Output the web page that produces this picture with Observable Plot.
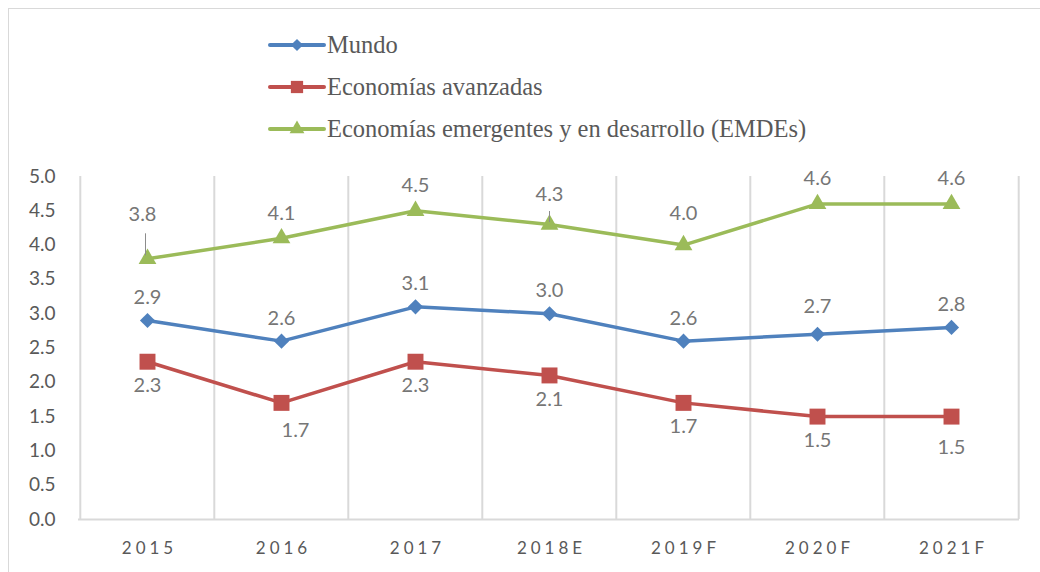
<!DOCTYPE html>
<html>
<head>
<meta charset="utf-8">
<script src="https://cdn.jsdelivr.net/npm/d3@7"></script>
<script src="https://cdn.jsdelivr.net/npm/@observablehq/plot@0.6"></script>
<style>
  html, body { margin: 0; padding: 0; background: #fff; }
  #wrap { position: relative; width: 1040px; height: 572px; overflow: hidden; }
  #frame { position: absolute; left: 8px; top: 8px; width: 1100px; height: 600px;
           border-left: 1.5px solid #d9d9d9; border-top: 1.5px solid #d9d9d9; pointer-events: none; }
  #legend { position: relative; height: 160px; }
  .lrow { position: absolute; left: 268px; height: 30px; display: flex; align-items: center;
          font-family: "Liberation Serif", "Times New Roman", serif; font-size: 24.5px; color: #595959; }
  .lrow svg { margin-right: 1px; }
  #chart svg { display: block; }
  #chart [aria-label="x-axis tick label"] text { letter-spacing: 4px; }
</style>
</head>
<body>
<div id="wrap">
  <div id="frame"></div>
  <div id="legend"></div>
  <div id="chart"></div>
</div>
<script>
// ---- data ----
const categories = ["2015", "2016", "2017", "2018E", "2019F", "2020F", "2021F"];
const mundo      = [2.9, 2.6, 3.1, 3.0, 2.6, 2.7, 2.8];
const avanzadas  = [2.3, 1.7, 2.3, 2.1, 1.7, 1.5, 1.5];
const emdes      = [3.8, 4.1, 4.5, 4.3, 4.0, 4.6, 4.6];
const seriesNames = ["Mundo", "Economías avanzadas", "Economías emergentes y en desarrollo (EMDEs)"];
const yTicks = [0, 0.5, 1, 1.5, 2, 2.5, 3, 3.5, 4, 4.5, 5];

// ---- styles ----
const colors  = ["#4f81bd", "#c0504d", "#9bbb59"];
const symbols = ["diamond2", "square", "triangle"];
const radii   = [6.8, 9.0, 6.6];
const labelDy = [-23, 24, -25];
// per-label nudges (label placement + leader lines), keyed "series|category"
const nudges = {
  "2|2015":  {dx: -5, dy: -44, leader: [-25, -3], ldx: -2},
  "2|2018E": {dx: 0,  dy: -30, leader: [-13, -2], ldx: 0},
  "1|2016":  {dx: 14, dy: 28},
  "1|2021F": {dx: 0,  dy: 31},
  "2|2019F": {dx: 0,  dy: -32},
  "0|2020F": {dx: 0,  dy: -28}
};

const seriesValues = [mundo, avanzadas, emdes];
const rows = seriesValues.flatMap((vals, s) =>
  categories.map((c, i) => ({cat: c, value: vals[i], s})));

// ---- legend ----
const legend = document.getElementById("legend");
const legendY = [30, 72, 114];
seriesNames.forEach((name, s) => {
  const row = document.createElement("div");
  row.className = "lrow";
  row.style.top = legendY[s] + "px";
  const sym = d3.symbol(s === 0 ? d3.symbolDiamond2 : s === 1 ? d3.symbolSquare : d3.symbolTriangle,
                        s === 0 ? 95 : s === 1 ? 150 : 95)();
  row.innerHTML = `<svg width="58" height="30"><line x1="2" x2="56" y1="15" y2="15" stroke="${colors[s]}" stroke-width="4" stroke-linecap="round"/>` +
    `<path d="${sym}" transform="translate(29,15)" fill="${colors[s]}"/></svg><span>${name}</span>`;
  legend.appendChild(row);
});

// ---- chart ----
const W = 1040, H = 412, mL = 78, mR = 21, mT = 16, mB = 53;
const bw = (W - mL - mR) / categories.length;
const fmt = d3.format(".1f");
const grid = "#d9d9d9";

const labelMarks = rows.map(d => {
  const n = nudges[d.s + "|" + d.cat];
  return Plot.text([d], {
    x: "cat", y: "value", text: r => fmt(r.value),
    dx: n ? n.dx : 0, dy: n ? n.dy : labelDy[d.s],
    fill: "#767676", fontSize: 20, fontFamily: "Lato, 'Open Sans', sans-serif"
  });
});
const leaderMarks = rows.filter(d => nudges[d.s + "|" + d.cat] && nudges[d.s + "|" + d.cat].leader).map(d => {
  const n = nudges[d.s + "|" + d.cat];
  return Plot.ruleX([d], {x: "cat", y1: "value", y2: "value", dx: n.ldx,
    insetTop: n.leader[0], insetBottom: -n.leader[1], stroke: "#8c8c8c", strokeWidth: 1});
});

const chart = Plot.plot({
  width: W, height: H,
  marginLeft: mL, marginRight: mR, marginTop: mT, marginBottom: mB,
  style: {background: "transparent", overflow: "visible"},
  x: {type: "band", domain: categories, padding: 0, label: null},
  y: {domain: [0, 5], label: null},
  marks: [
    Plot.ruleX(categories, {x: d => d, y1: 0, y2: 5, dx: -bw / 2, stroke: grid, strokeWidth: 2}),
    Plot.ruleX([categories[categories.length - 1]], {x: d => d, y1: 0, y2: 5, dx: bw / 2, stroke: grid, strokeWidth: 2}),
    Plot.ruleY([0], {stroke: grid, strokeWidth: 2}),
    Plot.axisY({ticks: yTicks, tickFormat: fmt, tickSize: 0, tickPadding: 23, label: null,
      fontSize: 19, fill: "#595959", fontFamily: "Lato, 'Open Sans', sans-serif"}),
    Plot.axisX({tickSize: 0, tickPadding: 22, fontSize: 17, fill: "#595959", dx: 2, label: null,
      fontFamily: "Lato, 'Open Sans', sans-serif"}),
    ...seriesValues.map((_, s) => Plot.line(rows.filter(d => d.s === s),
      {x: "cat", y: "value", stroke: colors[s], strokeWidth: 3.5})),
    ...seriesValues.map((_, s) => Plot.dot(rows.filter(d => d.s === s),
      {x: "cat", y: "value", symbol: symbols[s], r: radii[s], fill: colors[s], stroke: "none"})),
    ...leaderMarks,
    ...labelMarks
  ]
});
document.getElementById("chart").appendChild(chart);
</script>
</body>
</html>
